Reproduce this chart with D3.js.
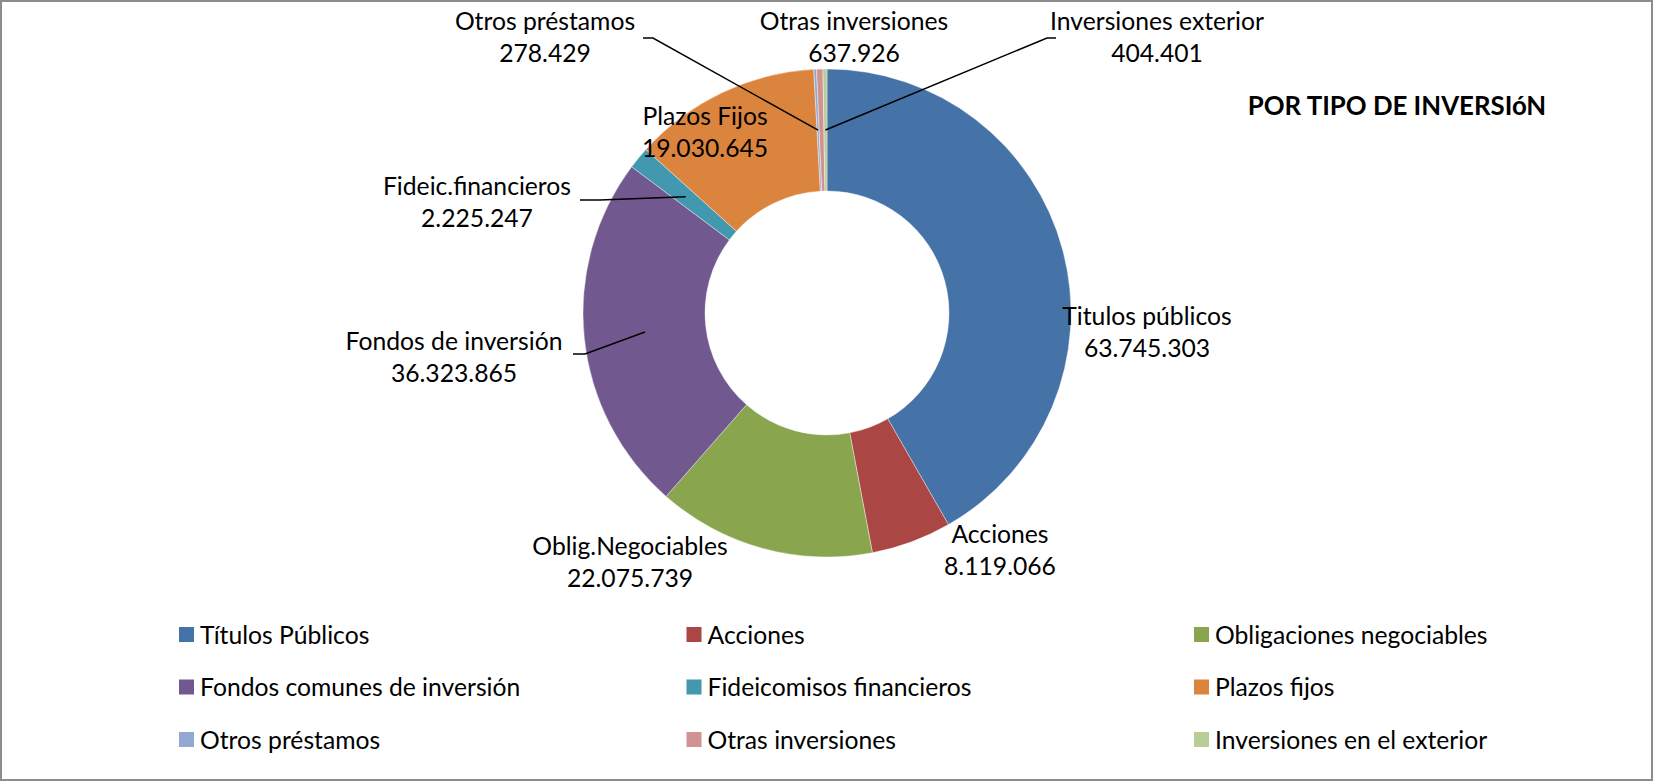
<!DOCTYPE html>
<html>
<head>
<meta charset="utf-8">
<script src="https://cdn.jsdelivr.net/npm/d3@7"></script>
<style>
body{margin:0;background:#fff;}
text{font-family:Lato,"Open Sans",sans-serif;fill:#000;}
</style>
</head>
<body>
<div id="chart"></div>
<script>
var w = 1654;
var h = 782;

// data
var categories = ["Títulos Públicos","Acciones","Obligaciones negociables","Fondos comunes de inversión","Fideicomisos financieros","Plazos fijos","Otros préstamos","Otras inversiones","Inversiones en el exterior"];
var sliceLabels = ["Titulos públicos","Acciones","Oblig.Negociables","Fondos de inversión","Fideic.financieros","Plazos Fijos","Otros préstamos","Otras inversiones","Inversiones exterior"];
var values = [63745303, 8119066, 22075739, 36323865, 2225247, 19030645, 278429, 637926, 404401];
var colors = ["#4572A7","#AA4643","#89A54E","#71588F","#4198AF","#DB843D","#93A9CF","#D19392","#B9CD96"];
var title = "POR TIPO DE INVERSIóN";

// label placement (x center, first line y) and leader line start
var labelPos = [
  {x:1147, y:316},
  {x:1000, y:534},
  {x:630, y:546},
  {x:454, y:341, lead:[[573,354],[585,354]]},
  {x:477, y:186, lead:[[580,200],[600,200]]},
  {x:705, y:116},
  {x:545, y:21, lead:[[643,38],[653,38]]},
  {x:854, y:21},
  {x:1157, y:21, lead:[[1056,38],[1047,38]]}
];

var cx = 827, cy = 313, rOut = 244, rIn = 122;

var fmt = d3.formatLocale({decimal:",", thousands:".", grouping:[3], currency:["$",""]}).format(",d");

var svg = d3.select("#chart").append("svg")
  .attr("width", w)
  .attr("height", h);

svg.append("rect")
  .attr("x", 1).attr("y", 1)
  .attr("width", w - 3).attr("height", h - 3)
  .attr("fill", "#fff")
  .attr("stroke", "#8c8c8c")
  .attr("stroke-width", 2);

var pie = d3.pie().sort(null).value(function(d){return d;});
var arcs = pie(values);
var arc = d3.arc().innerRadius(rIn).outerRadius(rOut);

var g = svg.append("g").attr("transform", "translate(" + cx + "," + cy + ")");

g.selectAll("path")
  .data(arcs)
  .enter()
  .append("path")
  .attr("d", arc)
  .attr("fill", function(d, i){return colors[i];})
  .attr("stroke", "#fff")
  .attr("stroke-width", 0.4);

// leader lines
arcs.forEach(function(d, i){
  var p = labelPos[i];
  if (!p.lead) return;
  var c = arc.centroid(d);
  var pts = p.lead.concat([[cx + c[0], cy + c[1]]]);
  svg.append("path")
    .attr("d", d3.line()(pts))
    .attr("fill", "none")
    .attr("stroke", "#000")
    .attr("stroke-width", 1.5);
});

// slice labels
var lab = svg.selectAll(".lbl")
  .data(arcs)
  .enter()
  .append("text")
  .attr("class", "lbl")
  .attr("text-anchor", "middle")
  .style("font-size", "24.7px");
lab.append("tspan")
  .attr("x", function(d, i){return labelPos[i].x;})
  .attr("y", function(d, i){return labelPos[i].y + 9;})
  .text(function(d, i){return sliceLabels[i];});
lab.append("tspan")
  .attr("x", function(d, i){return labelPos[i].x;})
  .attr("y", function(d, i){return labelPos[i].y + 41;})
  .text(function(d){return fmt(d.value);});

// title
svg.append("text")
  .attr("x", 1397)
  .attr("y", 115)
  .attr("text-anchor", "middle")
  .style("font-size", "25.8px")
  .style("font-weight", "bold")
  .text(title);

// legend
var legend = svg.selectAll(".leg")
  .data(categories)
  .enter()
  .append("g")
  .attr("class", "leg")
  .attr("transform", function(d, i){
    return "translate(" + (179 + (i % 3) * 507.5) + "," + (627 + Math.floor(i / 3) * 52.5) + ")";
  });
legend.append("rect")
  .attr("width", 15).attr("height", 15)
  .attr("fill", function(d, i){return colors[i];});
legend.append("text")
  .attr("x", 21)
  .attr("y", 16.5)
  .style("font-size", "24.7px")
  .text(function(d){return d;});
</script>
</body>
</html>
